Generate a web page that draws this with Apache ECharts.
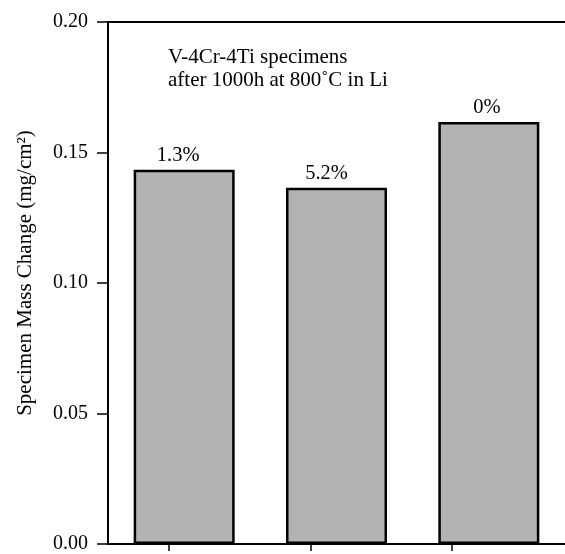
<!DOCTYPE html>
<html>
<head>
<meta charset="utf-8">
<script src="https://cdn.jsdelivr.net/npm/echarts@6/dist/echarts.min.js"></script>
<style>
html,body{margin:0;padding:0;background:#fff;}
#c{width:565px;height:554px;}
</style>
</head>
<body>
<div id="c"></div>
<script>
const categories = ['Specimen A', 'Specimen B', 'Specimen C'];
const massChange = [0.1434, 0.1365, 0.1617];
const barLabels = ['1.3%', '5.2%', '0%'];
const yTickValues = [0, 0.05, 0.10, 0.15, 0.20];
const noteLines = ['V-4Cr-4Ti specimens', 'after 1000h at 800\u02DAC in Li'];
const yName = 'Specimen Mass Change (mg/cm\u00B2)';

const FONT = 'Liberation Serif';
const labelShift = [-6, -10, -2];
const chart = echarts.init(document.getElementById('c'), null, {renderer: 'canvas'});
chart.setOption({
  animation: false,
  backgroundColor: '#fff',
  textStyle: {fontFamily: FONT, color: '#000'},
  grid: {left: 108, right: 0, top: 22, bottom: 8, containLabel: false},
  title: {
    text: noteLines.join('\n'),
    left: 168, top: 46, padding: 0,
    textStyle: {fontFamily: FONT, fontSize: 21, fontWeight: 'normal', color: '#000', lineHeight: 23}
  },
  xAxis: [
    {
      type: 'category', data: categories, position: 'bottom',
      axisLine: {show: true, lineStyle: {color: '#000', width: 2}},
      axisTick: {show: false}, axisLabel: {show: false}, splitLine: {show: false}
    },
    {
      type: 'value', min: 0, max: 3, position: 'bottom',
      axisLine: {show: false},
      axisTick: {show: true, inside: false, length: 7, lineStyle: {color: '#000', width: 1.5},
                 customValues: [0.402, 1.331, 2.256]},
      axisLabel: {show: false}, splitLine: {show: false}
    },
    {
      type: 'value', min: 0, max: 1, position: 'top',
      axisLine: {show: true, onZero: false, lineStyle: {color: '#000', width: 2}},
      axisTick: {show: false}, axisLabel: {show: false}, splitLine: {show: false}
    }
  ],
  yAxis: {
    type: 'value', min: 0, max: 0.2, interval: 0.05,
    name: yName, nameLocation: 'middle', nameGap: 72, nameRotate: 90,
    nameTextStyle: {fontFamily: FONT, fontSize: 21, color: '#000', padding: [0, 0, 0, 20]},
    axisLine: {show: true, lineStyle: {color: '#000', width: 2}},
    axisTick: {show: true, inside: false, length: 11, lineStyle: {color: '#000', width: 1.5}},
    axisLabel: {margin: 20, fontFamily: FONT, fontSize: 20, color: '#000',
                formatter: v => v.toFixed(2)},
    splitLine: {show: false}
  },
  series: [{
    type: 'bar', xAxisIndex: 0, yAxisIndex: 0,
    data: massChange.map((v, i) => ({value: v, label: {formatter: barLabels[i], offset: [labelShift[i], 0]}})),
    barWidth: 101,
    itemStyle: {color: '#b3b3b3', borderColor: '#000', borderWidth: 2.5},
    label: {show: true, position: 'top', distance: 4, fontFamily: FONT, fontSize: 20.5, color: '#000'}
  }]
});
</script>
</body>
</html>
